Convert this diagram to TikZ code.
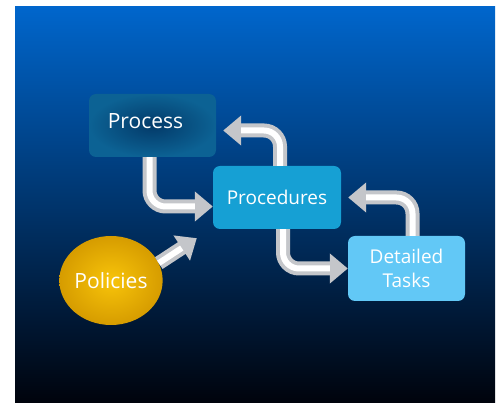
\documentclass[tikz,border=0pt]{standalone}
\usepackage{fontspec}
\newfontfamily\boxfont{Open Sans}
\usetikzlibrary{arrows.meta,shapes.geometric}
\definecolor{BackTop}{RGB}{0,102,204}
\definecolor{BackMid}{RGB}{1,40,88}
\definecolor{BackBottom}{RGB}{0,3,12}
\definecolor{ProcessOuter}{RGB}{12,98,148}
\definecolor{ProcessInner}{RGB}{3,58,105}
\definecolor{ProceduresFill}{RGB}{22,160,212}
\definecolor{TasksFill}{RGB}{98,200,246}
\definecolor{PolicyInner}{RGB}{248,196,10}
\definecolor{PolicyOuter}{RGB}{214,156,0}
\definecolor{FlowGray}{RGB}{196,198,202}

\begin{document}
\begin{tikzpicture}[x=1pt, y=-1pt,
    box/.style={rectangle, rounded corners=7pt, minimum width=127pt, minimum height=63pt,
        inner sep=0pt, align=center, text=white, font=\boxfont\fontsize{19}{24}\selectfont},
    flow/.style={draw=FlowGray, line width=14pt, rounded corners=16pt,
        -{Triangle[width=29pt,length=18pt]},
        postaction={draw=white, line width=6pt, -, shorten >=18pt}}]

    % ---------- Background
    \useasboundingbox (0,0) rectangle (499,403);
    \shade[top color=BackTop, middle color=BackMid, bottom color=BackBottom] (15,7) rectangle (495,403);

    % ---------- Boxes
    \node[box, shade, inner color=ProcessInner, outer color=ProcessOuter,
        font=\boxfont\fontsize{21}{24}\selectfont] (process) at (152.5,125.5) {\hspace*{-14pt}\raisebox{8pt}{Process}};
    \node[box, fill=ProceduresFill, minimum width=128pt] (procedures) at (277,197.5) {Procedures};
    \node[box, fill=TasksFill, minimum width=117pt, minimum height=65pt] (detailedTasks) at (406.5,268.5) {Detailed\\Tasks};
    \node[ellipse, shade, inner color=PolicyInner, outer color=PolicyOuter, minimum width=98pt,
        minimum height=89pt, inner sep=0pt, text=white, font=\boxfont\fontsize{21}{24}\selectfont]
        (policies) at (111,280.5) {Policies};

    % ---------- Arrows
    \draw[flow] ([xshift=-3pt]process.south) |- ([yshift=-9pt]procedures.west);
    \draw[flow] ([xshift=3pt]procedures.north) |- ([xshift=7pt,yshift=-5pt]process.east);
    \draw[flow] ([xshift=6pt]procedures.south) |- (detailedTasks.west);
    \draw[flow] ([xshift=6pt]detailedTasks.north) |- ([xshift=7pt]procedures.east);
    \draw[flow] (policies.20) -- ([xshift=-16pt,yshift=-9pt]procedures.south west);

\end{tikzpicture}
\end{document}
